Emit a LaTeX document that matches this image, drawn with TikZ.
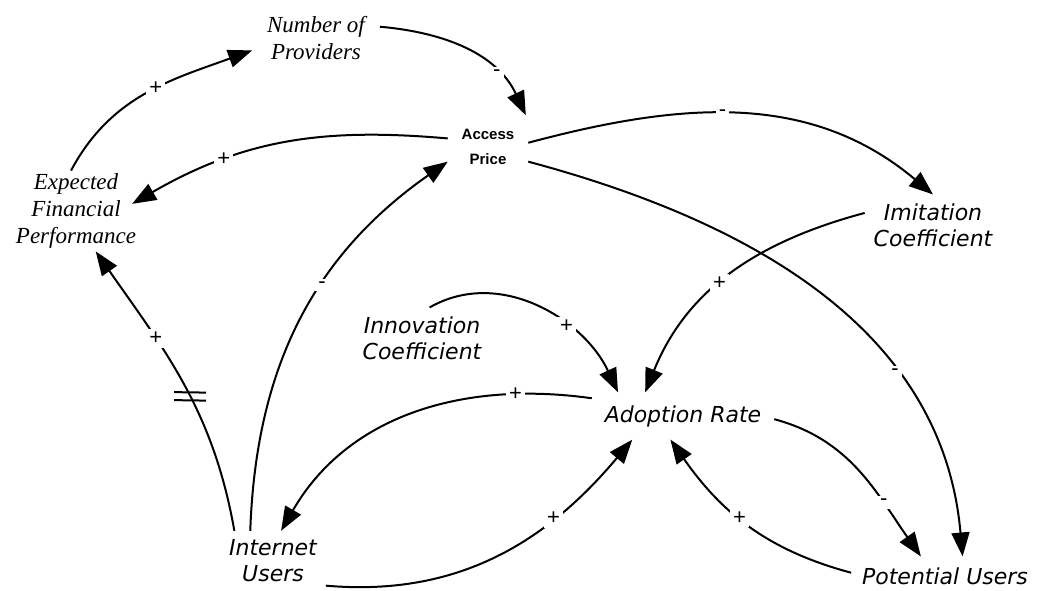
\documentclass[tikz,border=0pt]{standalone}
\usepackage{fontspec}
\setmainfont{Liberation Serif}
\newfontfamily\dvsans{DejaVu Sans}
\newfontfamily\lsans{Liberation Sans}
\usetikzlibrary{arrows.meta}

\tikzset{
  var/.style={font=\dvsans\itshape\fontsize{22}{26}\selectfont,align=center,inner sep=3pt},
  scr/.style={font=\itshape\fontsize{23}{27}\selectfont,align=center,inner sep=3pt},
  link/.style={line width=2pt,-{Triangle[length=24pt,width=18pt]}},
  sign/.style={fill=white,inner sep=3pt,font=\lsans\fontsize{22}{22}\selectfont},
  delay/.style={sloped,rotate=62,inner sep=0pt,align=center,font=\fontsize{1}{8}\selectfont}
}

\begin{document}
\begin{tikzpicture}[x=1pt,y=1pt]
    \useasboundingbox (0,0) rectangle (1038,591);
    \node[scr,outer sep=12pt] (nop) at (316,553) {Number of\\Providers};
    \node[scr,outer sep=0pt] (efp) at (76,380) {Expected\\Financial\\Performance};
    \node[font=\lsans\bfseries\fontsize{15}{25}\selectfont,align=center,inner sep=3pt,outer sep=11pt] (price) at (488,444) {Access\\Price};
    \node[var,outer sep=6pt] (imit) at (933,366) {Imitation\\Coefficient};
    \node[var,outer sep=6pt] (innov) at (422,253) {Innovation\\Coefficient};
    \node[var,outer sep=10pt] (adopt) at (683,175) {Adoption Rate};
    \node[var,outer sep=6pt] (inet) at (273,30) {Internet\\Users};
    \node[var,outer sep=8pt] (pot) at (945,15) {Potential Users};

    \draw[link] (efp.97) to[out=62,in=200] node[sign,pos=0.55]{+} (nop.191);
    \draw[link] (nop.10) to[out=-5,in=115] node[sign,pos=0.72]{-} (price.40);
    \draw[link,shorten >=-8pt] (price.168) to[out=175,in=30] node[sign,pos=0.72]{+} (efp.10);
    \draw[link] (inet.127) to[out=88,in=215] node[sign,pos=0.6]{-} (price.200);
    \draw[link] (inet.142) to[out=100,in=-55] node[delay,pos=0.45]{\rule{32pt}{2pt}\\\rule{32pt}{2pt}} node[sign,pos=0.68]{+} (efp.-64);
    \draw[link] (price.6) to[out=15,in=140] node[sign,pos=0.45]{-} (imit.north);
    \draw[link] (price.-20) to[out=-15,in=95] node[sign,pos=0.68]{-} (pot.48);
    \draw[link] (imit.170) to[out=195,in=68] node[sign,pos=0.55]{+} (adopt.148);
    \draw[link] (innov.76) to[out=30,in=115] node[sign,pos=0.65]{+} (adopt.160);
    \draw[link] (adopt.169) to[out=172,in=60] node[sign,pos=0.2]{+} (inet.75);
    \draw[link] (inet.-25) to[out=-5,in=230] node[sign,pos=0.7]{+} (adopt.205);
    \draw[link] (adopt.-2) to[out=-15,in=125] node[sign,pos=0.7]{-} (pot.141);
    \draw[link] (pot.178) to[out=165,in=-55] node[sign,pos=0.55]{+} (adopt.242);
\end{tikzpicture}
\end{document}
